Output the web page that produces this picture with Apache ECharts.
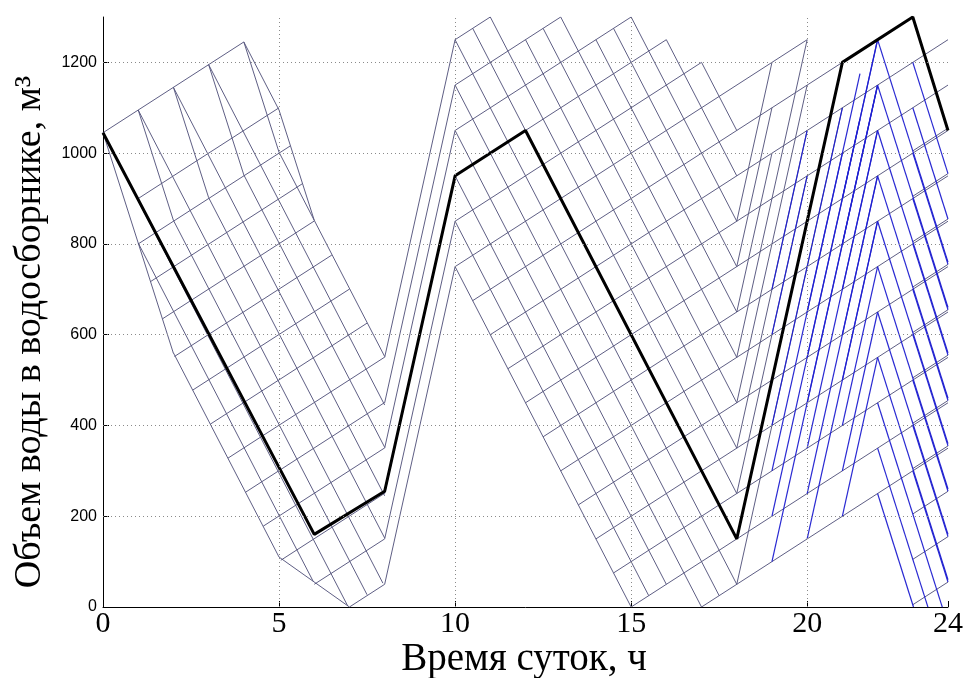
<!DOCTYPE html>
<html>
<head>
<meta charset="utf-8">
<script src="https://cdn.jsdelivr.net/npm/echarts@6/dist/echarts.min.js"></script>
<style>
  html, body { margin: 0; padding: 0; background: #fff; }
  #main { width: 966px; height: 678px; }
</style>
</head>
<body>
<div id="main"></div>
<script>
// axis ticks
var xTicks = [5, 10, 15, 20];
var yTicks = [200, 400, 600, 800, 1000, 1200];

// axis titles
var xTitle = 'Время суток, ч';
var yTitle = 'Объем воды в водосборнике, м³';

// optimal schedule (thick black line): hour, m3
var bestTime   = [0, 6, 8, 10, 12, 18, 21, 23, 24];
var bestVolume = [1045, 160, 255, 950, 1050, 150, 1200, 1300, 1050];

// rates of change of volume, m3/h, read from the slopes of the lattice
var rateFill = 50;
var rateDrain = -150;
var rateDrainFast = -243;
var rateFloor = -55;
var rateRise = 350;
var rateDrainNight = -245;

// lattice lines: [hour start, volume at start, hour end]
// 0-8 h
var morningFill = [
  [0, 1045, 4], [1, 900, 5], [1, 800, 5.32], [1.35, 717, 5.66], [1.69, 635, 6],
  [2.03, 552, 6.5], [2.55, 478, 7], [3.05, 403, 7.5], [3.55, 328, 8], [4.05, 253, 8],
  [4.55, 178, 8], [5.05, 103, 8], [6, 50, 8], [7, 0, 8]
];
var morningDrain = [
  [4, 1245, 5], [5, 1002, 8], [3, 1195, 8], [4, 952, 8], [2, 1145, 8], [3, 902, 8],
  [1, 1095, 7.95], [2, 852, 7.5], [0, 1045, 6.95], [1, 802, 5.97], [2, 560, 5]
];
var morningDrainFast = [
  [0, 1045, 2], [1, 1095, 2], [2, 1145, 3], [3, 1195, 4], [4, 1245, 5], [5, 1095, 6]
];
var morningFloor = [[5, 110, 7]];
// 8-10 h
var forenoonRise = [[8, 50, 10], [8, 150, 10], [8, 250, 10], [8, 350, 10], [8, 450, 10], [8, 550, 10]];
// 10-24 h
var dayFill = [
  [10, 1250, 11], [10, 1150, 13], [10, 1050, 15], [10, 950, 16], [10, 850, 17], [10, 750, 20],
  [10.5, 675, 23], [11, 600, 24], [11.5, 525, 24], [12, 450, 24], [12.5, 375, 24], [13, 300, 24],
  [13.5, 225, 24], [14, 150, 24], [14.5, 75, 24], [15, 0, 24], [17, 0, 24]
];
var dayDrain = [
  [10, 750, 15], [10, 850, 15.5], [10, 950, 16], [10, 1050, 17], [10, 1150, 17.5], [10, 1250, 18],
  [10.5, 1275, 18], [11, 1300, 18], [12, 1250, 18], [12.5, 1275, 18], [13, 1300, 18], [14, 1250, 18],
  [14.5, 1275, 18], [15, 1300, 18], [16, 1250, 18], [17, 1200, 18]
];
var eveningRise = [
  [18, 50, 21], [18, 150, 21], [18, 250, 20], [18, 350, 20], [18, 450, 20], [18, 550, 20],
  [18, 650, 19], [18, 750, 19], [18, 850, 19]
];
var eveningRiseLate = [
  [19, 100, 22], [19, 200, 22], [19, 300, 21], [20, 150, 22], [20, 250, 22], [20, 350, 22],
  [21, 200, 22], [21, 300, 22], [21, 400, 22],
  [19, 400, 21], [19, 500, 21], [19, 600, 20], [19, 700, 20], [20, 450, 22], [20, 550, 21.5],
  [20, 650, 21.5], [21, 500, 22], [21, 600, 22], [21, 700, 22], [21, 800, 22], [21, 900, 22]
];
var nightDrain = [
  [22, 1250, 24], [22, 1150, 24], [22, 1050, 24], [22, 950, 24], [22, 850, 24], [22, 750, 24],
  [22, 650, 24], [22, 550, 24], [22, 450, 23.84], [22, 350, 23.43], [22, 250, 23.02],
  [23, 1200, 24], [23, 1100, 24], [23, 1000, 24], [23, 900, 24], [23, 800, 24], [23, 700, 24],
  [23, 600, 24], [23, 500, 24], [23, 400, 24], [23, 300, 24]
];
var nightFill = [
  [23, 1005, 24], [23, 905, 24], [23, 805, 24], [23, 705, 24], [23, 605, 24], [23, 505, 24],
  [23, 405, 24], [23, 305, 24], [23, 205, 24], [23, 105, 24], [23, 5, 24]
];

function toSegments(list, rate) {
  return list.map(function (s) {
    return { coords: [[s[0], s[1]], [s[2], s[1] + rate * (s[2] - s[0])]] };
  });
}

var grayLines = [].concat(
  toSegments(morningFill, rateFill),
  toSegments(morningDrain, rateDrain),
  toSegments(morningDrainFast, rateDrainFast),
  toSegments(morningFloor, rateFloor),
  toSegments(forenoonRise, rateRise),
  toSegments(dayFill, rateFill),
  toSegments(dayDrain, rateDrain),
  toSegments(eveningRise, rateRise),
  toSegments(nightFill, rateFill)
);
var blueLines = [].concat(
  toSegments(eveningRiseLate, rateRise),
  toSegments(nightDrain, rateDrainNight)
);

var bestPath = bestTime.map(function (t, i) { return [t, bestVolume[i]]; });

var gridMarks = xTicks.map(function (v) { return { xAxis: v }; })
  .concat(yTicks.map(function (v) { return { yAxis: v }; }));

var myChart = echarts.init(document.getElementById('main'), null, { renderer: 'canvas' });

var option = {
  animation: false,
  backgroundColor: '#fff',
  grid: { left: 103, right: 18, top: 17, bottom: 71, containLabel: false, outerBoundsMode: 'none' },
  graphic: [
    {
      type: 'text', x: 524, y: 660,
      style: {
        text: xTitle, x: 0, y: 0, align: 'center', verticalAlign: 'middle',
        font: '39px "Liberation Serif"', fill: '#000'
      }
    },
    {
      type: 'text', x: 30, y: 332, rotation: Math.PI / 2,
      style: {
        text: yTitle, x: 0, y: 0, align: 'center', verticalAlign: 'middle',
        font: '38px "Liberation Serif"', fill: '#000'
      }
    }
  ],
  xAxis: {
    type: 'value',
    min: 0,
    max: 24,
    interval: 5,
    axisLine: { lineStyle: { color: '#000', width: 1 } },
    axisTick: { inside: true, length: 6, lineStyle: { color: '#000' } },
    axisLabel: { fontFamily: 'Liberation Serif', fontSize: 30, color: '#000', margin: 2 },
    splitLine: { show: false }
  },
  yAxis: {
    type: 'value',
    min: 0,
    max: 1300,
    interval: 200,
    axisLine: { show: true, lineStyle: { color: '#000', width: 1 } },
    axisTick: { inside: true, length: 6, lineStyle: { color: '#000' } },
    axisLabel: {
      fontFamily: 'Liberation Sans', fontSize: 16, color: '#000', margin: 6, showMaxLabel: false,
      formatter: function (v) { return String(v); }
    },
    splitLine: { show: false }
  },
  series: [
    {
      type: 'line',
      data: [],
      silent: true,
      markLine: {
        silent: true,
        symbol: 'none',
        label: { show: false },
        lineStyle: { color: '#8a8a8a', type: [1, 3], width: 1 },
        data: gridMarks
      },
      z: 1
    },
    {
      type: 'lines',
      coordinateSystem: 'cartesian2d',
      data: grayLines,
      lineStyle: { color: '#55557d', width: 1, opacity: 0.95 },
      silent: true,
      z: 2
    },
    {
      type: 'lines',
      coordinateSystem: 'cartesian2d',
      data: blueLines,
      lineStyle: { color: '#1e1ed0', width: 1.2, opacity: 0.95 },
      silent: true,
      z: 3
    },
    {
      type: 'line',
      data: bestPath,
      symbol: 'none',
      lineStyle: { color: '#000', width: 3 },
      silent: true,
      z: 4
    }
  ]
};
myChart.setOption(option);
</script>
</body>
</html>
